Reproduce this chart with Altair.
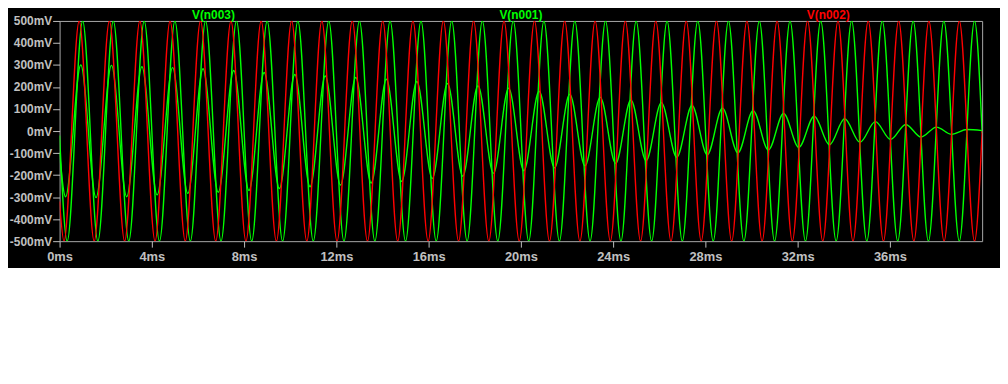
import altair as alt
import pandas as pd

# ---- data (extrema times in ms, values in mV) ----
red_t = [0, 0.19, 0.85, 1.50, 2.16, 2.82, 3.48, 4.14, 4.79, 5.45, 6.11, 6.77, 7.43,
         8.08, 8.74, 9.40, 10.06, 10.72, 11.37, 12.03, 12.69, 13.35, 14.01, 14.66,
         15.32, 15.98, 16.64, 17.30, 17.95, 18.61, 19.27, 19.93, 20.59, 21.24, 21.90,
         22.56, 23.22, 23.88, 24.53, 25.19, 25.85, 26.51, 27.17, 27.82, 28.48, 29.14,
         29.80, 30.46, 31.11, 31.77, 32.43, 33.09, 33.75, 34.40, 35.06, 35.72, 36.38,
         37.04, 37.69, 38.35, 39.01, 39.67, 40]
red_v = [-320,
         -500, 500, -500, 500, -500, 500, -500, 500, -500, 500,
         -500, 500, -500, 500, -500, 500, -500, 500, -500, 500,
         -500, 500, -500, 500, -500, 500, -500, 500, -500, 500,
         -500, 500, -500, 500, -500, 500, -500, 500, -500, 500,
         -500, 500, -500, 500, -500, 500, -500, 500, -500, 500,
         -500, 500, -500, 500, -500, 500, -500, 500, -500, 500,
         -500, 0]

green_t = [0, 0.33, 1.00, 1.66, 2.33, 3.00, 3.67, 4.33, 5.00, 5.67, 6.33, 7.00, 7.67,
           8.33, 9.00, 9.67, 10.33, 11.00, 11.67, 12.33, 13.00, 13.67, 14.33, 15.00,
           15.67, 16.33, 17.00, 17.67, 18.33, 19.00, 19.67, 20.34, 21.00, 21.67, 22.34,
           23.00, 23.67, 24.34, 25.00, 25.67, 26.34, 27.00, 27.67, 28.34, 29.00, 29.67,
           30.34, 31.00, 31.67, 32.34, 33.00, 33.67, 34.34, 35.00, 35.67, 36.34, 37.01,
           37.67, 38.34, 39.01, 39.67, 40]
green_v = [-20,
           -500, 500, -500, 500, -500, 500, -500, 500, -500, 500,
           -500, 500, -500, 500, -500, 500, -500, 500, -500, 500,
           -500, 500, -500, 500, -500, 500, -500, 500, -500, 500,
           -500, 500, -500, 500, -500, 500, -500, 500, -500, 500,
           -500, 500, -500, 500, -500, 500, -500, 500, -500, 500,
           -500, 500, -500, 500, -500, 500, -500, 500, -500, 500,
           -10]

small_t = [0, 0.26, 0.92, 1.58, 2.25, 2.91, 3.57, 4.23, 4.90, 5.56, 6.22, 6.88, 7.55,
           8.21, 8.87, 9.53, 10.20, 10.86, 11.52, 12.18, 12.84, 13.51, 14.17, 14.83,
           15.49, 16.16, 16.82, 17.48, 18.14, 18.81, 19.47, 20.13, 20.79, 21.46, 22.12,
           22.78, 23.44, 24.11, 24.77, 25.43, 26.09, 26.76, 27.42, 28.08, 28.74, 29.41,
           30.07, 30.73, 31.39, 32.05, 32.72, 33.38, 34.04, 34.70, 35.37, 36.03, 36.69,
           37.35, 38.02, 38.68, 39.34, 40]
small_v = [-100,
           -298, 300, -302, 298, -298, 292, -290, 288, -283, 283,
           -278, 275, -270, 266, -261, 257, -253, 250, -245, 243,
           -236, 235, -229, 225, -216, 216, -205, 206, -192, 195,
           -180, 181, -167, 167, -158, 154, -147, 141, -134, 129,
           -119, 116, -108, 104, -99, 93, -86, 80, -74, 67,
           -62, 56, -51, 43, -38, 30, -27, 18, -15, 7,
           2]

x_ticks = [0, 4, 8, 12, 16, 20, 24, 28, 32, 36]
y_ticks = [-500, -400, -300, -200, -100, 0, 100, 200, 300, 400, 500]

trace_names = ["V(n003)", "V(n001)", "V(n002)"]
trace_colors = ["#00FF00", "#00FF00", "#FF0000"]
title_pos = [6.67, 20.0, 33.33]

rows = []
for name, ts, vs in [("V(n003)", green_t, green_v),
                     ("V(n001)", small_t, small_v),
                     ("V(n002)", red_t, red_v)]:
    for t, v in zip(ts, vs):
        rows.append({"trace": name, "t": t, "v": v})
df = pd.DataFrame(rows)

titles = pd.DataFrame({"label": trace_names, "pos": title_pos, "color": trace_colors})

FONT = "Liberation Sans"
GRAY = "#C0C0C0"

x_scale = alt.Scale(domain=[0, 40], nice=False, zero=False)
x_axis = alt.Axis(values=x_ticks, labelExpr="datum.value + 'ms'", title=None,
                  grid=False, domain=False, tickColor=GRAY, tickSize=6,
                  labelColor=GRAY, labelFont=FONT, labelFontSize=13,
                  labelFontWeight="bold", labelPadding=3, labelFlush=False)
y_enc = alt.Y("v:Q",
              scale=alt.Scale(domain=[-500, 500], nice=False, zero=False),
              axis=alt.Axis(values=y_ticks, labelExpr="datum.value + 'mV'", title=None,
                            grid=False, domain=False, tickColor=GRAY, tickSize=7,
                            labelColor=GRAY, labelFont=FONT, labelFontSize=12,
                            labelFontWeight="bold", labelPadding=1))

layers = []
for name, col in zip(trace_names, trace_colors):
    layers.append(
        alt.Chart(df)
        .transform_filter(alt.datum.trace == name)
        .mark_line(interpolate="monotone", color=col, strokeWidth=1.4, clip=True)
        .encode(x=alt.X("t:Q", scale=x_scale, axis=x_axis), y=y_enc)
    )

title_layer = alt.Chart(titles).mark_text(
    font=FONT, fontSize=12, fontWeight="bold", baseline="middle", align="center"
).encode(
    x=alt.X("pos:Q", scale=x_scale, axis=x_axis),
    y=alt.value(-6),
    text="label:N",
    color=alt.Color("color:N", scale=None),
)

chart = alt.layer(*layers, title_layer).properties(
    width=930,
    height=222,
    autosize=alt.AutoSizeParams(type="none"),
    padding={"left": 52, "top": 12, "right": 18, "bottom": 26},
    background="#000000",
).configure_view(stroke="#A8A8A8", strokeWidth=1)

chart.save("out.html", embed_options={"renderer": "svg", "actions": False})
